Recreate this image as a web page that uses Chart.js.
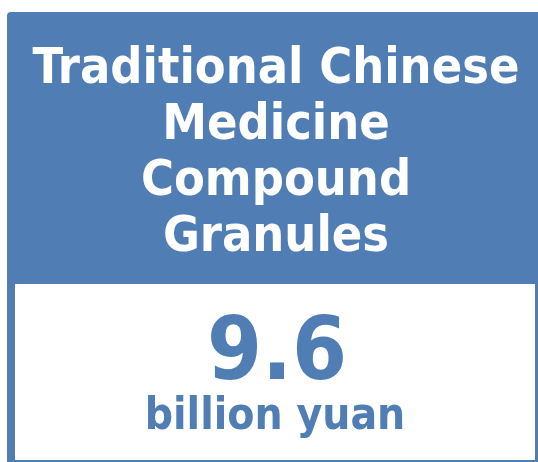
<!DOCTYPE html>
<html>
<head>
<meta charset="utf-8">
<title>Traditional Chinese Medicine Compound Granules</title>
<script src="https://cdn.jsdelivr.net/npm/chart.js@4.4.1/dist/chart.umd.min.js"></script>
<style>
  html, body { margin: 0; padding: 0; background: #ffffff; }
  #card { display: block; }
</style>
</head>
<body>
<canvas id="card" width="538" height="462"></canvas>
<script>
// card content
const titleLines = ['Traditional Chinese', 'Medicine', 'Compound', 'Granules'];
const kpiValues = [9.6];
const unitLabels = ['billion yuan'];

const BLUE = '#4f7db4';
const FONT = '"DejaVu Sans Condensed", "DejaVu Sans", sans-serif';

// paints the card frame behind the title and the figure in the lower panel
const cardPlugin = {
    id: 'kpiCard',
    beforeDraw(chart) {
        const ctx = chart.ctx;
        ctx.save();
        ctx.fillStyle = '#ffffff';
        ctx.fillRect(0, 0, chart.width, chart.height);

        // blue card with a rounded top-left corner
        ctx.fillStyle = BLUE;
        ctx.beginPath();
        ctx.roundRect(7, 12, chart.width - 7, chart.height - 12, [4, 0, 0, 0]);
        ctx.fill();

        // white lower panel inside the frame
        ctx.fillStyle = '#ffffff';
        ctx.fillRect(15, 284, 520, 176);
        ctx.restore();
    },
    afterDraw(chart) {
        const ctx = chart.ctx;
        ctx.save();
        ctx.fillStyle = BLUE;
        ctx.textAlign = 'center';
        ctx.textBaseline = 'alphabetic';
        ctx.font = 'bold 88px ' + FONT;
        ctx.fillText(String(kpiValues[0]), 277, 379);
        ctx.font = 'bold 44px ' + FONT;
        ctx.fillText(unitLabels[0], 275, 429);
        ctx.restore();
    }
};

const ctx = document.getElementById('card').getContext('2d');

new Chart(ctx, {
    type: 'bar',
    data: {
        labels: [],
        datasets: []
    },
    options: {
        responsive: false,
        animation: false,
        events: [],
        layout: {
            padding: { top: 12, left: 14, right: 0, bottom: 0 }
        },
        scales: {
            x: { display: false },
            y: { display: false }
        },
        plugins: {
            legend: { display: false },
            tooltip: { enabled: false },
            title: {
                display: true,
                text: titleLines,
                color: '#ffffff',
                align: 'center',
                font: { family: FONT, size: 50, weight: 'bold', lineHeight: 1.12 },
                padding: { top: 30, bottom: 0 }
            }
        }
    },
    plugins: [cardPlugin]
});
</script>
</body>
</html>
